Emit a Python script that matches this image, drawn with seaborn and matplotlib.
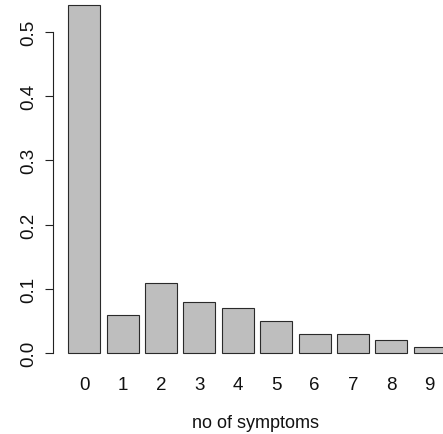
import matplotlib
matplotlib.use("Agg")
import matplotlib.pyplot as plt
import seaborn as sns
import pandas as pd

# proportion of respondents by number of symptoms reported
symptoms = ["0", "1", "2", "3", "4", "5", "6", "7", "8", "9"]
proportion = [0.541, 0.06, 0.11, 0.08, 0.07, 0.05, 0.03, 0.03, 0.02, 0.01]
y_ticks = [0.0, 0.1, 0.2, 0.3, 0.4, 0.5]
y_tick_labels = ["0.0", "0.1", "0.2", "0.3", "0.4", "0.5"]

df = pd.DataFrame({"symptoms": symptoms, "proportion": proportion})

sns.set_style("white")
plt.rcParams["font.family"] = ["Liberation Sans", "DejaVu Sans"]

W, H = 443, 435
fig = plt.figure(figsize=(W / 100, H / 100), dpi=100)
left_px, bottom_px = 53.3, 368.2
ax = fig.add_axes([left_px / W, (H - bottom_px) / H, (W - left_px) / W, bottom_px / H])

sns.barplot(data=df, x="symptoms", y="proportion", order=symptoms,
            color="#bebebe", saturation=1, width=1 / 1.2,
            edgecolor="#2a2a2a", linewidth=0.8, ax=ax)

ax.set_xlim(-0.803, 9.345)
ax.set_ylim(-0.0216, 0.5508)

ax.set_yticks(y_ticks)
ax.set_yticklabels(y_tick_labels, rotation=90, va="center")
ax.tick_params(axis="y", length=5.8, width=0.8, color="#222222", pad=5.5,
               labelsize=13.5, left=True, labelcolor="#111111")
ax.tick_params(axis="x", length=0, pad=6.0, labelsize=13.5, labelcolor="#111111")

for side in ("top", "right", "bottom"):
    ax.spines[side].set_visible(False)
ax.spines["left"].set_bounds(0, 0.5)
ax.spines["left"].set_linewidth(0.8)
ax.spines["left"].set_color("#222222")

ax.set_ylabel("")
ax.set_xlabel("no of symptoms", fontsize=13, color="#111111")
ax.xaxis.set_label_coords((256 - left_px) / (W - left_px), -0.127)
ax.xaxis.label.set_va("top")

fig.savefig("out.png", dpi=100)
